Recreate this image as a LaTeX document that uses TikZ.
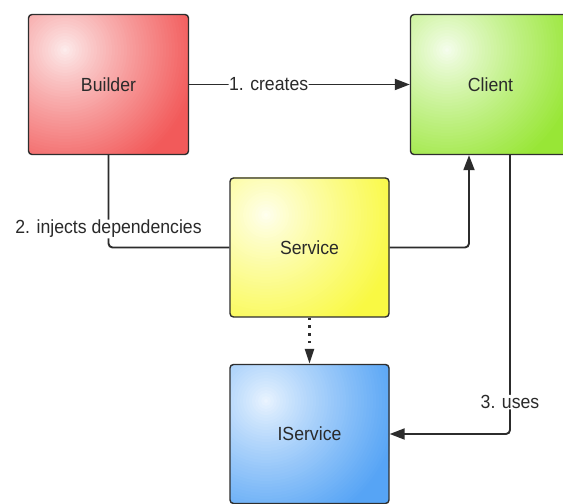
\documentclass[tikz,border=0pt]{standalone}
\usepackage{fontspec}
\setmainfont{Liberation Sans}[FakeStretch=0.93]
\usetikzlibrary{arrows.meta,calc}
\definecolor{linec}{HTML}{2C2C2C}
\definecolor{boxborder}{HTML}{2E2E2E}
\definecolor{txt}{HTML}{2A2A2A}
\definecolor{redhi}{HTML}{FDF0F0}
\definecolor{redfull}{HTML}{F25A5A}
\definecolor{greenhi}{HTML}{F8FEF2}
\definecolor{greenfull}{HTML}{98E636}
\definecolor{yellowhi}{HTML}{FFFFF4}
\definecolor{yellowfull}{HTML}{F9F943}
\definecolor{bluehi}{HTML}{EEF6FF}
\definecolor{bluefull}{HTML}{56A4F5}
% glow fill: highlight (x,y), box corners (x1,y1) (x2,y2), colours hi, full
\newcommand\glowfill[8]{%
  \begin{scope}
    \clip[rounded corners=3.5pt] (#3,#4) rectangle (#5,#6);
    \fill[#8] (#3,#4) rectangle (#5,#6);
    \foreach \r in {140,137,...,2}{%
      \pgfmathsetmacro\pp{min(100,100*(\r/135)^0.85)}%
      \fill[#8!\pp!#7] (#1,#2) circle (\r);
    }%
  \end{scope}}
\begin{document}
\begin{tikzpicture}[x=1pt,y=1pt,
  box/.style={draw=boxborder, line width=1.4pt, rounded corners=3.5pt,
    minimum width=160pt, minimum height=140pt, inner sep=0pt, text=txt,
    font=\fontsize{19}{22}\selectfont},
  conn/.style={draw=linec, line width=1.9pt, rounded corners=4pt},
  tipped/.style={-{Triangle[length=15pt,width=11pt]}},
  lbl/.style={fill=white, inner sep=0.5pt, text=txt, font=\fontsize{19}{22}\selectfont}
]
\useasboundingbox (0,0) rectangle (563,504);
\clip (0,0) rectangle (563,504);
\fill[white] (0,0) rectangle (563,504);

% gradient fills
\glowfill{65}{454}{28.5}{349.5}{188.5}{489.5}{redhi}{redfull}
\glowfill{447}{454}{410.5}{349.5}{570.5}{489.5}{greenhi}{greenfull}
\glowfill{266}{289}{230}{187}{389}{326}{yellowhi}{yellowfull}
\glowfill{266}{103}{230}{0.5}{389}{139.5}{bluehi}{bluefull}

\node[box] (builder) at (108.5,419.5) {Builder};
\node[box] (client) at (490.5,419.5) {Client};
\node[box, minimum width=159pt, minimum height=139pt] (service) at (309.5,256.5) {Service};
\node[box, minimum width=159pt, minimum height=139pt] (iservice) at (309.5,70) {IService};

\draw[conn, tipped] (builder.east) -- node[lbl, pos=0.36] {1. creates} (client.west);
\draw[conn] (builder.south) |- node[lbl, pos=0.4] {2. injects dependencies} (service.west);
\draw[conn, tipped] (service.east) -| ([xshift=-21.5pt]client.south);
\draw[conn, tipped] ([xshift=19.5pt]client.south) |- node[lbl, pos=0.443] {3. uses} (iservice.east);
\draw[draw=linec, line width=2.3pt, dash pattern=on 2.3pt off 5.5pt,
  -{Triangle[length=15pt,width=9pt]}] (service.south) -- (iservice.north);
\end{tikzpicture}
\end{document}
